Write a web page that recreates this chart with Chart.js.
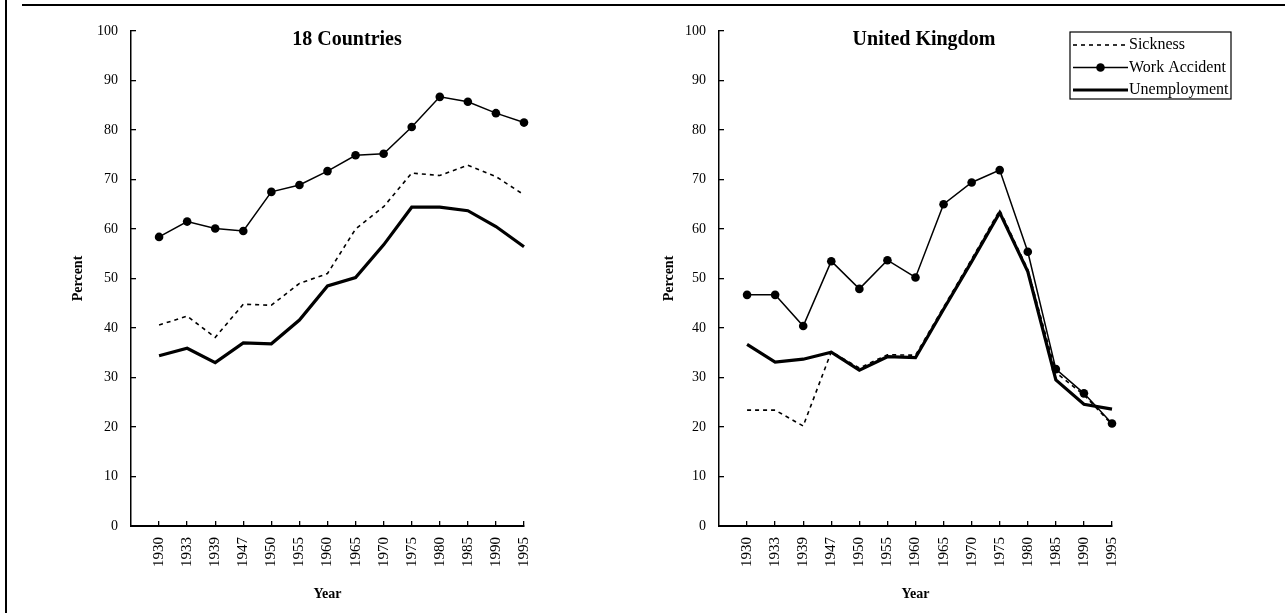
<!DOCTYPE html>
<html>
<head>
<meta charset="utf-8">
<script src="https://cdn.jsdelivr.net/npm/chart.js@4.4.1/dist/chart.umd.min.js"></script>
<style>
  body { margin: 0; background: #fff; }
  #page { position: relative; width: 1285px; height: 613px; overflow: hidden; }
  .rule-left { position: absolute; left: 5px; top: 0; width: 2px; height: 613px; background: #000; }
  .rule-top { position: absolute; left: 22px; top: 4px; right: 0; height: 2px; background: #000; }
  canvas { position: absolute; top: 0; }
</style>
</head>
<body>
<div id="page">
  <div class="rule-left"></div>
  <div class="rule-top"></div>
  <canvas id="all" width="640" height="613" style="left:0"></canvas>
  <canvas id="uk" width="645" height="613" style="left:640px"></canvas>
</div>
<script>
const years = ["1930", "1933", "1939", "1947", "1950", "1955", "1960", "1965", "1970", "1975", "1980", "1985", "1990", "1995"];
const percentTicks = [0, 10, 20, 30, 40, 50, 60, 70, 80, 90, 100];

// 18 countries
const allSickness = [40.6, 42.4, 38.1, 44.8, 44.6, 49.0, 51.0, 60.0, 64.5, 71.3, 70.8, 72.9, 70.6, 66.9];
const allWork = [58.4, 61.5, 60.1, 59.6, 67.5, 68.9, 71.7, 74.9, 75.2, 80.6, 86.7, 85.7, 83.4, 81.5];
const allUnemp = [34.4, 35.9, 33.0, 37.0, 36.8, 41.6, 48.5, 50.2, 56.8, 64.4, 64.4, 63.7, 60.5, 56.4];

// United Kingdom
const ukSickness = [23.4, 23.4, 20.2, 35.2, 31.9, 34.6, 34.5, 44.2, 53.9, 63.8, 51.8, 31.0, 26.5, 20.5];
const ukWork = [46.7, 46.7, 40.4, 53.5, 47.9, 53.7, 50.2, 65.0, 69.4, 71.9, 55.4, 31.7, 26.8, 20.7];
const ukUnemp = [36.7, 33.1, 33.7, 35.1, 31.5, 34.2, 34.0, 43.8, 53.4, 63.3, 51.4, 29.5, 24.6, 23.6];

const serif = '"Liberation Serif", "Times New Roman", serif';
Chart.defaults.font.family = serif;
Chart.defaults.color = '#000';

const toPoints = vals => vals.map((v, i) => ({ x: i, y: v }));

const panelTitle = {
  id: 'panelTitle',
  afterDraw(chart, args, opts) {
    const ctx = chart.ctx;
    ctx.save();
    ctx.font = 'bold 20px ' + serif;
    ctx.fillStyle = '#000';
    ctx.textAlign = 'center';
    ctx.textBaseline = 'alphabetic';
    ctx.fillText(opts.text, chart.chartArea.left + opts.x, opts.y);
    ctx.restore();
  }
};

// boxed legend drawn from the datasets' own styles
const boxLegend = {
  id: 'boxLegend',
  afterDraw(chart, args, opts) {
    if (!opts.display) return;
    const ctx = chart.ctx;
    ctx.save();
    ctx.strokeStyle = '#000';
    ctx.fillStyle = '#000';
    ctx.lineWidth = 1.2;
    ctx.strokeRect(opts.left, opts.top, opts.width, opts.height);
    ctx.font = '16px ' + serif;
    ctx.textBaseline = 'middle';
    const x0 = opts.left + 3, x1 = opts.left + 58;
    chart.data.datasets.forEach((ds, i) => {
      const y = opts.top + opts.rowStart + i * opts.rowGap;
      ctx.beginPath();
      ctx.setLineDash(ds.borderDash || []);
      ctx.lineWidth = ds.borderWidth;
      ctx.moveTo(x0, y);
      ctx.lineTo(x1, y);
      ctx.stroke();
      ctx.setLineDash([]);
      if (ds.pointRadius > 0) {
        ctx.beginPath();
        ctx.arc((x0 + x1) / 2, y, ds.pointRadius, 0, Math.PI * 2);
        ctx.fill();
      }
      ctx.fillText(ds.label, x1 + 1, y);
    });
    ctx.restore();
  }
};

function makePanel(id, title, sick, work, unemp, cfg) {
  return new Chart(document.getElementById(id), {
    type: 'line',
    data: {
      datasets: [
        { label: 'Sickness', data: toPoints(sick), borderColor: '#000', borderWidth: 1.6,
          borderDash: [4, 4], pointRadius: 0, tension: 0, clip: false },
        { label: 'Work Accident', data: toPoints(work), borderColor: '#000', backgroundColor: '#000',
          borderWidth: 1.5, pointRadius: 4.3, pointBackgroundColor: '#000', pointBorderWidth: 0,
          tension: 0, clip: false },
        { label: 'Unemployment', data: toPoints(unemp), borderColor: '#000', borderWidth: 3.2,
          pointRadius: 0, tension: 0, clip: false }
      ]
    },
    options: {
      responsive: false,
      animation: false,
      devicePixelRatio: 1,
      layout: { padding: { left: 0, right: cfg.padRight, top: 31, bottom: 0 } },
      plugins: {
        legend: { display: false },
        tooltip: { enabled: false },
        panelTitle: { text: title, x: cfg.titleX, y: 45 },
        boxLegend: cfg.legend
      },
      scales: {
        x: {
          type: 'linear',
          min: -1,
          max: 13,
          afterBuildTicks: s => { s.ticks = years.map((_, i) => ({ value: i })); },
          afterFit: s => { s.height = 87; },
          grid: { drawOnChartArea: false, tickLength: -5, color: '#000', lineWidth: 1.3 },
          border: { color: '#000', width: 2 },
          ticks: {
            autoSkip: false, minRotation: 90, maxRotation: 90, padding: 16,
            color: '#000', font: { size: 15 },
            callback: v => years[v]
          },
          title: { display: true, text: 'Year', color: '#000',
            font: { size: 14, weight: 'bold' }, padding: { top: 0, bottom: 10 } }
        },
        y: {
          min: 0,
          max: 100,
          afterBuildTicks: s => { s.ticks = percentTicks.map(v => ({ value: v })); },
          afterFit: s => { s.width = cfg.yWidth; },
          grid: { drawOnChartArea: false, tickLength: -5, color: '#000', lineWidth: 1.3 },
          border: { color: '#000', width: 1.5 },
          ticks: { padding: 18, color: '#000', font: { size: 14 } },
          title: { display: true, text: 'Percent', color: '#000',
            font: { size: 14, weight: 'bold' }, padding: { top: cfg.yTitlePad, bottom: 0 } }
        }
      }
    },
    plugins: [panelTitle, boxLegend]
  });
}

makePanel('all', '18 Countries', allSickness, allWork, allUnemp, {
  padRight: 116, yWidth: 131, yTitlePad: 69.6, titleX: 216,
  legend: { display: false }
});

makePanel('uk', 'United Kingdom', ukSickness, ukWork, ukUnemp, {
  padRight: 173, yWidth: 79, yTitlePad: 20.6, titleX: 205,
  legend: { display: true, left: 430, top: 32, width: 161, height: 67, rowStart: 13, rowGap: 22.5 }
});
</script>
</body>
</html>
